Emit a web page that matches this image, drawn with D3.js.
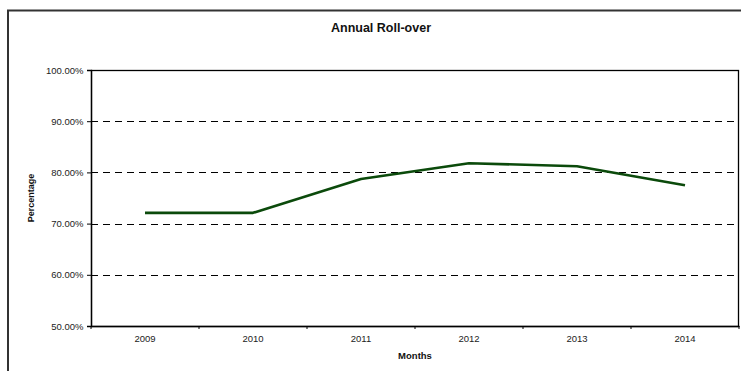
<!DOCTYPE html>
<html>
<head>
<meta charset="utf-8">
<script src="https://cdn.jsdelivr.net/npm/d3@7"></script>
<style>
  html, body { margin: 0; padding: 0; background: #fff; }
  svg { display: block; }
  text { font-family: "Liberation Sans", Arial, sans-serif; }
</style>
</head>
<body>
<svg id="chart" width="741" height="371"></svg>
<script>
// Annual roll-over rate per year (percent)
const years = ["2009", "2010", "2011", "2012", "2013", "2014"];
const rollover = [72.1, 72.1, 78.7, 81.8, 81.2, 77.5];
const yTicks = [50, 60, 70, 80, 90, 100];
const gridTicks = [60, 70, 80, 90];

const svg = d3.select("#chart");
const W = 741, H = 371;
const plot = { left: 91, right: 739, top: 70, bottom: 326 };

// outer chart frame (runs off the right and bottom of the page)
svg.append("rect")
  .attr("x", 8).attr("y", 10.5)
  .attr("width", W + 20).attr("height", H + 20)
  .attr("fill", "#fff").attr("stroke", "#333").attr("stroke-width", 2);

const x = d3.scaleBand().domain(years).range([plot.left, plot.right]).padding(0);
const y = d3.scaleLinear().domain([50, 100]).range([plot.bottom, plot.top]);

// dashed horizontal gridlines
svg.append("g").selectAll("line")
  .data(gridTicks).join("line")
  .attr("x1", plot.left).attr("x2", plot.right)
  .attr("y1", d => Math.round(y(d)) + 0.5).attr("y2", d => Math.round(y(d)) + 0.5)
  .attr("stroke", "#000").attr("stroke-width", 1)
  .attr("stroke-dasharray", "7,5");

// plot area border
svg.append("rect")
  .attr("x", plot.left + 0.5).attr("y", plot.top + 0.5)
  .attr("width", plot.right - plot.left - 1).attr("height", plot.bottom - plot.top)
  .attr("fill", "none").attr("stroke", "#000").attr("stroke-width", 1.3);

// y axis
const yAxis = svg.append("g")
  .attr("transform", `translate(${plot.left},0)`)
  .call(d3.axisLeft(y).tickValues(yTicks).tickSize(4).tickPadding(3.5)
    .tickFormat(d => d.toFixed(2) + "%"));
yAxis.select(".domain").attr("stroke", "#000").attr("stroke-width", 1.3);
yAxis.selectAll(".tick line").attr("stroke", "#000");
yAxis.selectAll(".tick text")
  .attr("font-size", 9.5).attr("fill", "#222")
  .attr("font-family", "'Liberation Sans', Arial, sans-serif");

// x axis: category labels centred in each band, ticks on band edges
const xAxis = svg.append("g")
  .attr("transform", `translate(0,${plot.bottom})`)
  .call(d3.axisBottom(x).tickSize(0).tickPadding(9));
xAxis.select(".domain").attr("stroke", "#000").attr("stroke-width", 1.5);
xAxis.selectAll(".tick text")
  .attr("font-size", 9.5).attr("fill", "#222")
  .attr("font-family", "'Liberation Sans', Arial, sans-serif");
const edges = years.map(d => x(d)).concat([x(years[years.length - 1]) + x.bandwidth()]);
svg.append("g").selectAll("line")
  .data(edges).join("line")
  .attr("x1", d => d).attr("x2", d => d)
  .attr("y1", plot.bottom).attr("y2", plot.bottom + 3)
  .attr("stroke", "#000").attr("stroke-width", 1);

// roll-over line
const line = d3.line()
  .x((d, i) => x(years[i]) + x.bandwidth() / 2)
  .y(d => y(d));
svg.append("path")
  .datum(rollover)
  .attr("d", line)
  .attr("fill", "none")
  .attr("stroke", "#0b4a0b")
  .attr("stroke-width", 2.6)
  .attr("stroke-linejoin", "round");

// titles
svg.append("text")
  .attr("x", 381).attr("y", 32)
  .attr("text-anchor", "middle")
  .attr("font-size", 12.5).attr("font-weight", "bold").attr("fill", "#111")
  .text("Annual Roll-over");

svg.append("text")
  .attr("x", (plot.left + plot.right) / 2).attr("y", 359)
  .attr("text-anchor", "middle")
  .attr("font-size", 9.5).attr("font-weight", "bold").attr("fill", "#111")
  .text("Months");

svg.append("text")
  .attr("transform", `translate(34,${(plot.top + plot.bottom) / 2}) rotate(-90)`)
  .attr("text-anchor", "middle")
  .attr("font-size", 9).attr("font-weight", "bold").attr("fill", "#111")
  .text("Percentage");
</script>
</body>
</html>
